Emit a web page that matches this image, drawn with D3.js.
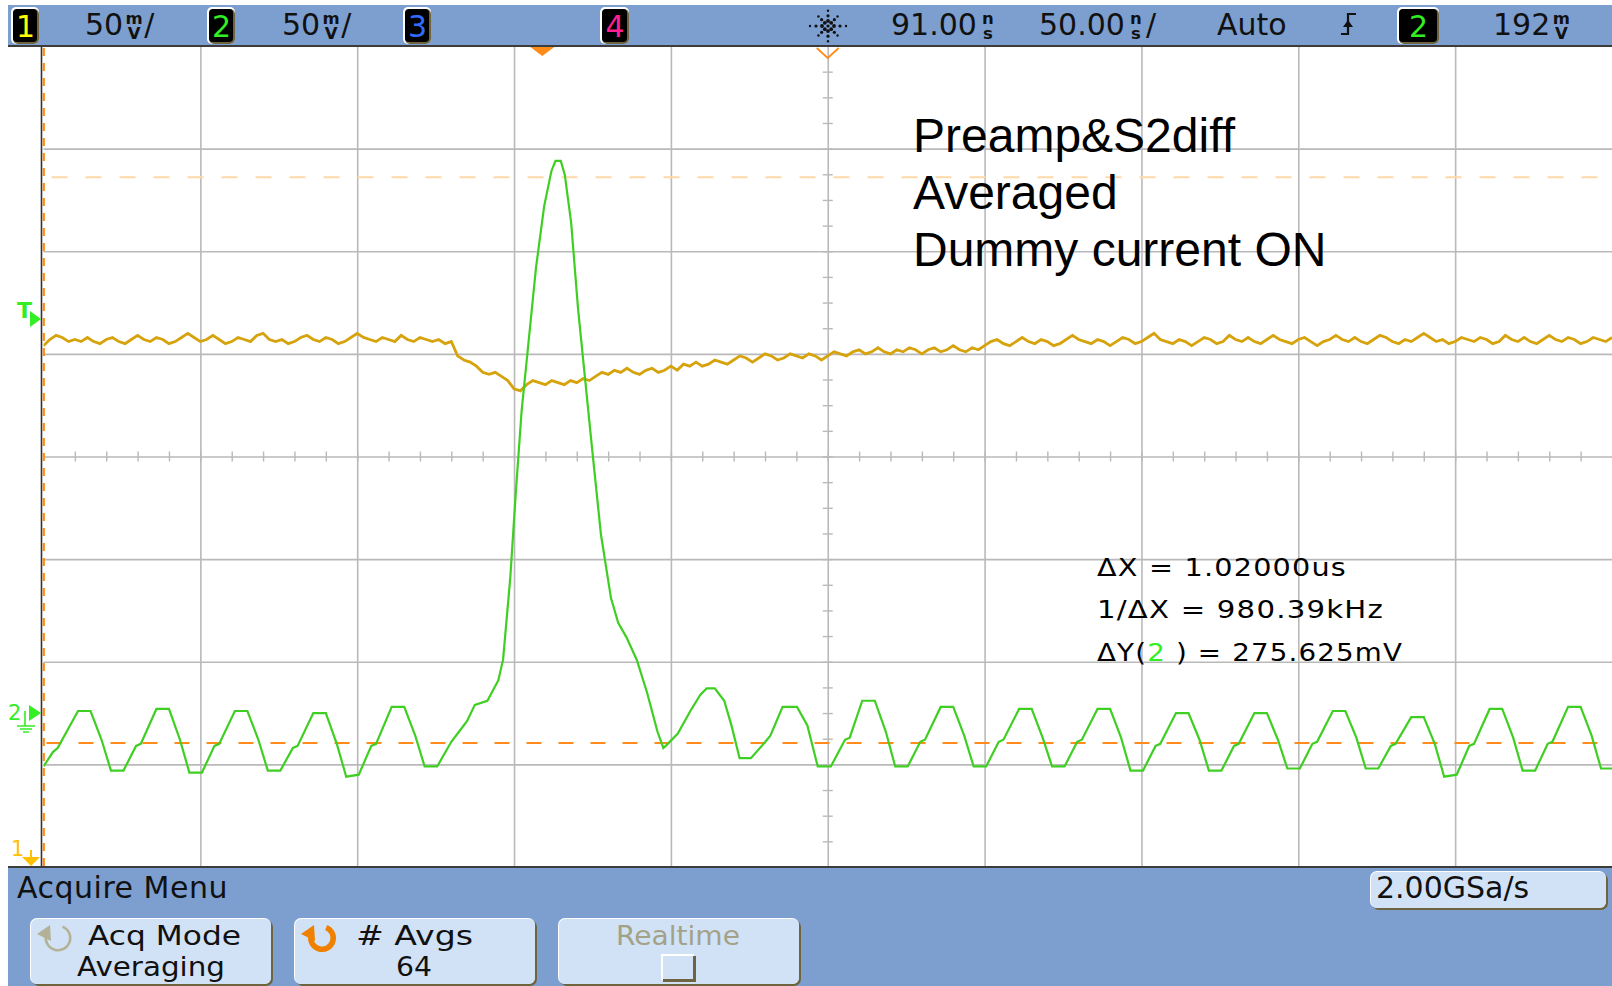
<!DOCTYPE html>
<html lang="en">
<head>
<meta charset="utf-8">
<title>Preamp&amp;S2diff scope capture</title>
<script src="https://d3js.org/d3.v7.min.js"></script>
<style>
  body { margin: 0; background: #fff; overflow: hidden; }
  svg text { font-family: "DejaVu Sans", sans-serif; }
  .unit { writing-mode: vertical-rl; text-orientation: upright; }
</style>
</head>
<body>
<div id="scope"></div>
<script>
// ---- values ----
const timeRange = [-159, 341]      // ns across the graticule (91.00ns center, 50ns/div)
const ch2Range = [-75, 325]        // mV, ch2 bottom..top of screen (50mV/div)
const ch1Range = [0, 400]          // mV above screen bottom, ch1 (50mV/div)
const trigTime = 0
const refTime = 91
const trigLevel = 192              // mV on ch2
const cursorY = [261, -14.6]       // Y1, Y2 on ch2, mV

// ch1 (yellow) every 2 ns starting at -159 ns
const ch1Start = -159
const ch1Step = 2
const ch1Values = [
  254, 257, 259, 258, 256, 257, 256, 258, 256, 255,
  257, 258, 256, 255, 257, 259, 257, 256, 258, 257,
  255, 256, 258, 260, 258, 256, 257, 259, 257, 255,
  256, 258, 257, 256, 259, 260, 257, 256, 257, 255,
  256, 258, 259, 257, 256, 258, 257, 255, 256, 258,
  260, 258, 257, 256, 258, 257, 256, 259, 257, 256,
  258, 257, 256, 257, 255, 256, 249, 247, 246, 244,
  241, 240, 241, 239, 237, 233, 232, 235, 237, 236,
  235, 237, 236, 235, 237, 236, 238, 237, 239, 241,
  240, 242, 241, 243, 241, 240, 242, 243, 241, 242,
  244, 242, 245, 244, 246, 244, 245, 247, 246, 245,
  247, 249, 248, 246, 248, 250, 249, 247, 248, 250,
  249, 248, 250, 249, 247, 249, 251, 250, 249, 251,
  252, 250, 251, 253, 251, 250, 252, 251, 253, 252,
  250, 252, 253, 251, 252, 254, 252, 251, 253, 252,
  254, 256, 257, 255, 254, 256, 258, 256, 255, 257,
  256, 254, 255, 257, 259, 257, 256, 255, 257, 256,
  254, 256, 258, 257, 255, 256, 258, 260, 257, 256,
  255, 257, 256, 254, 256, 258, 257, 255, 256, 259,
  257, 256, 258, 256, 255, 257, 259, 257, 256, 255,
  257, 258, 256, 254, 256, 257, 259, 257, 256, 258,
  256, 255, 257, 259, 258, 256, 255, 257, 256, 258,
  260, 258, 256, 257, 255, 256, 258, 257, 256, 258,
  257, 255, 256, 259, 257, 256, 258, 256, 255, 257,
  259, 257, 256, 258, 257, 255, 256, 258, 257, 256, 258
]

// ch2 (green) vertices [ns, mV]
const ch2Points = [
  [-159, -26], [-156, -19], [-154.5, -17], [-148, 1], [-144, 1], [-140.5, -13],
  [-137.5, -28], [-133.5, -28], [-129.5, -16], [-128, -15], [-123, 2], [-119, 2],
  [-115.5, -13], [-112.5, -29], [-108.5, -29], [-104.5, -16], [-103, -15], [-98, 1],
  [-94, 1], [-90.5, -13], [-87.5, -28], [-83.5, -28], [-79.5, -17], [-78, -16],
  [-73, 0], [-69, 0], [-65.5, -15], [-62.5, -31], [-58.5, -30], [-54.5, -16],
  [-53, -15], [-48, 3], [-44, 3], [-40.5, -11], [-37.5, -26], [-33.5, -26],
  [-29, -14], [-26.5, -9], [-24, -4], [-21.5, 4], [-17.5, 6], [-14, 16],
  [-12.5, 26], [-10.2, 66], [-8.5, 106], [-6.6, 147], [-4.3, 182], [-2.0, 217],
  [0.6, 247], [2.9, 264], [4.2, 269], [5.9, 269], [7.2, 262], [9.2, 239],
  [11.4, 197], [13.7, 162], [16.0, 127], [18.7, 87], [21.9, 56], [24.2, 44],
  [26.8, 37], [30.1, 26], [33.4, 10], [36.7, -9], [38.6, -17], [40.0, -15],
  [43.2, -10], [47.2, 1], [50.4, 9], [52.4, 12], [55.0, 12], [58.0, 6],
  [60.3, -6], [62.9, -22], [66.5, -22], [71.1, -14], [72.7, -11], [76.6, 3],
  [81.2, 3], [84.5, -6], [87.8, -26], [92.0, -26], [96.5, -13], [98, -12],
  [102, 6], [106, 6], [109.5, -9], [112.5, -26], [116.5, -26], [120.5, -14],
  [122, -13], [127, 3], [131, 3], [134.5, -11], [137.5, -26], [141.5, -26],
  [145.5, -14], [147, -13], [152, 2], [156, 2], [159.5, -12], [162.5, -26],
  [166.5, -26], [170.5, -14], [172, -13], [177, 2], [181, 2], [184.5, -12],
  [187.5, -28], [191.5, -28], [195.5, -16], [197, -15], [202, 0], [206, 0],
  [209.5, -13], [212.5, -28], [216.5, -28], [220.5, -16], [222, -15], [227, 0],
  [231, 0], [234.5, -13], [237.5, -27], [241.5, -27], [245.5, -15], [247, -14],
  [252, 1], [256, 1], [259.5, -12], [262.5, -27], [266.5, -27], [270.5, -16],
  [272, -15], [277, -2], [281, -2], [284.5, -15], [287.5, -31], [291.5, -30],
  [295.5, -16], [297, -15], [302, 2], [306, 2], [309.5, -12], [312.5, -28],
  [316.5, -28], [320.5, -15], [322, -14], [327, 3], [331, 3], [334.5, -11],
  [337.5, -27], [341, -27]
]

// status line, channel keys
const chanKeys = ["1", "2", "3", "4", "2"]
const chanColors = ["#ffff00", "#33ee22", "#2f6dff", "#ff1f8f", "#33ee22"]
const chanKeyX = [12, 208, 404, 601, 1398]
const chanKeyW = [26, 26, 26, 27, 40]

const readoutMain = ["50", "50", "91.00", "50.00", "Auto", "192"]
const readoutUnit = ["mV", "mV", "ns", "ns", null, "mV"]
const readoutTail = ["/", "/", "", "/", "", ""]
const readoutX = [85, 282, 891, 1039, 1217, 1493]

const noteLines = ["Preamp&S2diff", "Averaged", "Dummy current ON"]
const cursorLines = ["ΔX = 1.02000us", "1/ΔX = 980.39kHz", "ΔY(2 ) = 275.625mV"]
const cursorWidths = [250, 287, 306]
const softkeys = [
  { top: "Acq Mode", bottom: "Averaging", icon: "grey" },
  { top: "# Avgs", bottom: "64", icon: "orange" },
  { top: "Realtime", bottom: null, icon: null }
]
const softkeyTopW = [153, 117, 124]
const softkeyBottomW = [148, 36, 0]
const sampleRate = "2.00GSa/s"

// ---- layout ----
const W = 1612, H = 986
const plot = { left: 43.5, right: 1612, top: 46, bottom: 867 }
const blue = "#7c9fcf"

const svg = d3.select("#scope").append("svg")
  .attr("width", W).attr("height", H)

svg.append("rect").attr("width", W).attr("height", H).attr("fill", "#fff")

const x = d3.scaleLinear().domain(timeRange).range([plot.left, plot.right])
const y2 = d3.scaleLinear().domain(ch2Range).range([plot.bottom, plot.top])
const y1 = d3.scaleLinear().domain(ch1Range).range([plot.bottom, plot.top])
const gx = d3.scaleLinear().domain([0, 10]).range([plot.left, plot.right])
const gy = d3.scaleLinear().domain([0, 8]).range([plot.top, plot.bottom])

// graticule
const grid = svg.append("g").attr("class", "grid")
grid.append("g")
  .attr("transform", `translate(0,${plot.top})`)
  .call(d3.axisBottom(gx).tickValues(d3.range(1, 10)).tickSize(plot.bottom - plot.top).tickFormat(""))
grid.append("g")
  .attr("transform", `translate(${plot.left},0)`)
  .call(d3.axisRight(gy).tickValues(d3.range(1, 8)).tickSize(plot.right - plot.left).tickFormat(""))
grid.selectAll(".domain").remove()
grid.selectAll("line").attr("stroke", "#b9b9b9").attr("stroke-width", 1.6)

// minor ticks on the centre lines
const minor = svg.append("g")
const cy = gy(4), cx = gx(5)
minor.append("g").attr("transform", `translate(0,${cy})`)
  .call(d3.axisBottom(gx).tickValues(d3.range(0.2, 10, 0.2)).tickSize(5).tickFormat(""))
minor.append("g").attr("transform", `translate(0,${cy})`)
  .call(d3.axisTop(gx).tickValues(d3.range(0.2, 10, 0.2)).tickSize(5).tickFormat(""))
minor.append("g").attr("transform", `translate(${cx},0)`)
  .call(d3.axisRight(gy).tickValues(d3.range(0.25, 8, 0.25)).tickSize(5).tickFormat(""))
minor.append("g").attr("transform", `translate(${cx},0)`)
  .call(d3.axisLeft(gy).tickValues(d3.range(0.25, 8, 0.25)).tickSize(5).tickFormat(""))
minor.selectAll(".domain").remove()
minor.selectAll("line").attr("stroke", "#b9b9b9").attr("stroke-width", 1.4)

// cursors
svg.append("line")
  .attr("x1", plot.left + 8).attr("x2", plot.right)
  .attr("y1", y2(cursorY[0])).attr("y2", y2(cursorY[0]))
  .attr("stroke", "#ffd9a8").attr("stroke-width", 2).attr("stroke-dasharray", "16,18")
svg.append("line")
  .attr("x1", plot.left + 3).attr("x2", plot.right)
  .attr("y1", y2(cursorY[1])).attr("y2", y2(cursorY[1]))
  .attr("stroke", "#ff8c1a").attr("stroke-width", 2).attr("stroke-dasharray", "15,17")

// traces
svg.append("clipPath").attr("id", "clip").append("rect")
  .attr("x", plot.left).attr("y", plot.top)
  .attr("width", plot.right - plot.left).attr("height", plot.bottom - plot.top)

const ch1Line = d3.line()
  .x((d, i) => x(ch1Start + i * ch1Step))
  .y(d => y1(d))
svg.append("path").datum(ch1Values)
  .attr("clip-path", "url(#clip)")
  .attr("d", ch1Line)
  .attr("fill", "none").attr("stroke", "#d6a30c").attr("stroke-width", 2.8)
  .attr("stroke-linejoin", "miter")

const ch2Line = d3.line()
  .x(d => x(d[0]))
  .y(d => y2(d[1]))
svg.append("path").datum(ch2Points)
  .attr("clip-path", "url(#clip)")
  .attr("d", ch2Line)
  .attr("fill", "none").attr("stroke", "#3fcf22").attr("stroke-width", 2.2)

// left border and X cursor
svg.append("line").attr("x1", 41.5).attr("x2", 41.5).attr("y1", plot.top).attr("y2", plot.bottom)
  .attr("stroke", "#333").attr("stroke-width", 1.6)
svg.append("line").attr("x1", 43.8).attr("x2", 43.8).attr("y1", plot.top + 2).attr("y2", plot.bottom)
  .attr("stroke", "#ff8c1a").attr("stroke-width", 2.2).attr("stroke-dasharray", "8,7")

// markers at the top of the screen
const tx = x(trigTime)
svg.append("path")
  .attr("d", `M${tx - 12},${plot.top + 1} L${tx + 12},${plot.top + 1} L${tx},${plot.top + 10} Z`)
  .attr("fill", "#ff8c1a")
const rx = x(refTime)
svg.append("path")
  .attr("d", `M${rx - 11},${plot.top + 2} L${rx},${plot.top + 12} L${rx + 11},${plot.top + 2}`)
  .attr("fill", "none").attr("stroke", "#ff8c1a").attr("stroke-width", 1.8)

// left side markers
const ty = y2(trigLevel)
svg.append("text").attr("x", 17).attr("y", ty - 1).text("T")
  .attr("fill", "#33ee22").attr("font-size", 22).attr("font-weight", "bold")
svg.append("path").attr("d", `M30,${ty - 8} L41,${ty} L30,${ty + 8} Z`).attr("fill", "#33ee22")

const g2y = y2(0)
svg.append("text").attr("x", 8).attr("y", g2y + 7).text("2")
  .attr("fill", "#33ee22").attr("font-size", 21)
svg.append("path").attr("d", `M29,${g2y - 8} L41,${g2y} L29,${g2y + 8} Z`).attr("fill", "#33ee22")
svg.append("path")
  .attr("d", `M25,${g2y - 2} V${g2y + 13} M17,${g2y + 13} H35 M20,${g2y + 16} H32 M23,${g2y + 19} H29`)
  .attr("stroke", "#33ee22").attr("stroke-width", 1.6).attr("fill", "none")

svg.append("text").attr("x", 11).attr("y", 856).text("1")
  .attr("fill", "#ffc000").attr("font-size", 21)
svg.append("path").attr("d", "M22,857 L40,857 L31,866 Z").attr("fill", "#ffc000")
svg.append("line").attr("x1", 31).attr("x2", 31).attr("y1", 850).attr("y2", 857)
  .attr("stroke", "#ffc000").attr("stroke-width", 2)

// annotation
svg.append("g").selectAll("text").data(noteLines).join("text")
  .attr("x", 913).attr("y", (d, i) => 152 + i * 57)
  .style("font-family", "'Liberation Sans', Arial, sans-serif")
  .attr("font-size", 48).attr("fill", "#000")
  .text(d => d)

// cursor readouts
const ro = svg.append("g").attr("font-size", 24).attr("fill", "#000")
cursorLines.forEach((s, i) => {
  const t = ro.append("text").attr("x", 1097).attr("y", 576 + i * 42.3)
    .attr("textLength", cursorWidths[i]).attr("lengthAdjust", "spacingAndGlyphs")
    .attr("letter-spacing", 1)
  if (s.startsWith("ΔY(")) {
    t.append("tspan").text("ΔY(")
    t.append("tspan").attr("fill", "#33ee22").text("2")
    t.append("tspan").text(s.slice(4))
  } else {
    t.text(s)
  }
})

// ---- status line ----
svg.append("rect").attr("x", 8).attr("y", 5).attr("width", W - 8).attr("height", 41).attr("fill", blue)
svg.append("line").attr("x1", 8).attr("x2", W).attr("y1", 46).attr("y2", 46)
  .attr("stroke", "#3c3c3c").attr("stroke-width", 2)

const keys = svg.append("g")
chanKeys.forEach((k, i) => {
  keys.append("rect").attr("x", chanKeyX[i] - 1).attr("y", 7).attr("width", chanKeyW[i] + 2).attr("height", 37)
    .attr("rx", 5).attr("fill", "#fff")
  keys.append("rect").attr("x", chanKeyX[i] + 1).attr("y", 9).attr("width", chanKeyW[i]).attr("height", 35)
    .attr("rx", 5).attr("fill", "#6e6440")
  keys.append("rect").attr("x", chanKeyX[i] + 1).attr("y", 9).attr("width", chanKeyW[i] - 2).attr("height", 33)
    .attr("rx", 4).attr("fill", "#000")
  keys.append("text").attr("x", chanKeyX[i] + chanKeyW[i] / 2 + 0.5).attr("y", 37)
    .attr("text-anchor", "middle").attr("font-size", 30).attr("fill", chanColors[i]).text(k)
})

// readouts: value, unit stacked as one upright vertical run, optional "/"
const readouts = svg.append("g").attr("fill", "#111")
readoutMain.forEach((m, i) => {
  const t = readouts.append("text").attr("x", readoutX[i]).attr("y", 35).attr("font-size", 30).text(m)
  let xx = readoutX[i] + t.node().getComputedTextLength() + 1
  if (readoutUnit[i]) {
    readouts.append("text").attr("class", "unit")
      .attr("x", xx + 10).attr("y", 9)
      .attr("font-size", 16.5).attr("font-weight", "bold")
      .attr("letter-spacing", -4.5)
      .text(readoutUnit[i])
    xx += 19
  }
  if (readoutTail[i]) {
    readouts.append("text").attr("x", xx + 1).attr("y", 35).attr("font-size", 30).text(readoutTail[i])
  }
})

// trigger slope glyph
svg.append("path").attr("d", "M1341,34 H1348 V14 H1356").attr("fill", "none")
  .attr("stroke", "#111").attr("stroke-width", 2.2)
svg.append("path").attr("d", "M1343,27 L1348,20 L1353,27 Z").attr("fill", "#111")

// logo sparkle
const logo = svg.append("g").attr("transform", "translate(828,26)")
const ringR = [6, 12, 18]
const ringS = [1.9, 1.6, 1.2]
d3.range(8).forEach(a => {
  const ang = a * Math.PI / 4
  const k = a % 2 === 1 ? 0.75 : (a % 4 === 2 ? 0.85 : 1)
  ringR.forEach((r, j) => {
    logo.append("circle")
      .attr("cx", Math.cos(ang) * r * k)
      .attr("cy", Math.sin(ang) * r * k)
      .attr("r", ringS[j]).attr("fill", "#111")
  })
})
logo.append("circle").attr("r", 1.6).attr("fill", "#111")

// ---- softkey area ----
svg.append("rect").attr("x", 8).attr("y", plot.bottom).attr("width", W - 8).attr("height", H - plot.bottom).attr("fill", blue)
svg.append("line").attr("x1", 8).attr("x2", W).attr("y1", plot.bottom).attr("y2", plot.bottom)
  .attr("stroke", "#3c3c3c").attr("stroke-width", 2.2)

svg.append("text").attr("x", 17).attr("y", 898).attr("font-size", 30)
  .attr("letter-spacing", 0.5).attr("fill", "#111").text("Acquire Menu")

function button(g, bx, by, bw, bh) {
  g.append("rect").attr("x", bx + 1).attr("y", by + 1).attr("width", bw).attr("height", bh)
    .attr("rx", 7).attr("fill", "#6e6440")
  g.append("rect").attr("x", bx - 1).attr("y", by - 1).attr("width", bw).attr("height", bh)
    .attr("rx", 7).attr("fill", "#fff")
  g.append("rect").attr("x", bx).attr("y", by).attr("width", bw - 1).attr("height", bh - 1)
    .attr("rx", 6).attr("fill", "#d1e2f7")
}

const keyX = [31, 295, 559]
const topCenter = [164.5, 414.5, 678]
const bottomCenter = [151, 414, 0]
softkeys.forEach((k, i) => {
  const g = svg.append("g")
  button(g, keyX[i], 919, 241, 66)
  const col = k.icon ? "#111" : "#a3a287"
  g.append("text").attr("x", topCenter[i] - softkeyTopW[i] / 2).attr("y", 945)
    .attr("font-size", 26).attr("fill", col)
    .attr("textLength", softkeyTopW[i]).attr("lengthAdjust", "spacingAndGlyphs")
    .text(k.top)
  if (k.icon) {
    const ic = k.icon === "orange" ? "#f08000" : "#b4b296"
    const ring = k.icon === "orange" ? [8.5, 14] : [11, 13.5]
    const icon = g.append("g").attr("transform", `translate(${keyX[i] + 27},938)`)
    icon.append("path")
      .attr("d", d3.arc().innerRadius(ring[0]).outerRadius(ring[1]).startAngle(0.12 * Math.PI).endAngle(1.55 * Math.PI)())
      .attr("fill", ic)
    icon.append("path").attr("d", "M-21,-4 L-8,-13 L-7,3 Z").attr("fill", ic)
    g.append("text").attr("x", bottomCenter[i] - softkeyBottomW[i] / 2).attr("y", 975.5)
      .attr("font-size", 26).attr("fill", "#111")
      .attr("textLength", softkeyBottomW[i]).attr("lengthAdjust", "spacingAndGlyphs")
      .text(k.bottom)
  } else {
    const m = topCenter[i] - 15
    g.append("rect").attr("x", m - 2).attr("y", 954).attr("width", 33).attr("height", 26).attr("fill", "#fff")
    g.append("rect").attr("x", m).attr("y", 956).attr("width", 33).attr("height", 26).attr("fill", "#6e6440")
    g.append("rect").attr("x", m).attr("y", 956).attr("width", 30).attr("height", 23).attr("fill", "#d1e2f7")
  }
})

// sample rate box
const sr = svg.append("g")
button(sr, 1371, 872, 236, 37)
sr.append("text").attr("x", 1376).attr("y", 898).attr("font-size", 30).attr("fill", "#111").text(sampleRate)
</script>
</body>
</html>
